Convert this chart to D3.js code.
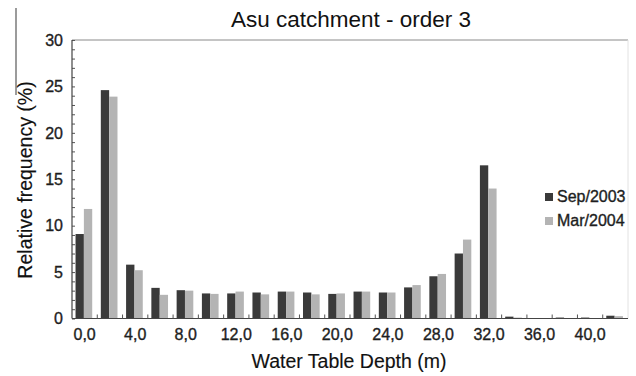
<!DOCTYPE html>
<html>
<head>
<meta charset="utf-8">
<script src="https://cdn.jsdelivr.net/npm/d3@7"></script>
<style>
  html, body { margin: 0; padding: 0; background: #fff; }
  svg { display: block; font-family: "Liberation Sans", Arial, sans-serif; }
  text { stroke: #1a1a1a; stroke-width: 0.35px; paint-order: stroke; }
  text.title { stroke-width: 0; }
  text.axis-title { stroke-width: 0.15px; }
</style>
</head>
<body>
<svg id="chart" width="636" height="376"></svg>
<script>
// Water table depth classes (m), one bin every 2 m
const depths = [0, 2, 4, 6, 8, 10, 12, 14, 16, 18, 20, 22, 24, 26, 28, 30, 32, 34, 36, 38, 40, 42];
const seriesNames = ["Sep/2003", "Mar/2004"];
// Relative frequency (%) per depth class
const sep2003 = [9.1, 24.6, 5.8, 3.3, 3.05, 2.7, 2.7, 2.8, 2.9, 2.8, 2.65, 2.9, 2.8, 3.35, 4.55, 7.0, 16.5, 0.2, 0.05, 0.1, 0.1, 0.3];
const mar2004 = [11.8, 23.9, 5.2, 2.55, 3.0, 2.65, 2.9, 2.6, 2.9, 2.6, 2.7, 2.9, 2.8, 3.6, 4.8, 8.5, 14.0, 0.1, 0.05, 0.05, 0.05, 0.25];
const yTicks = [0, 5, 10, 15, 20, 25, 30];
const xTickLabels = ["0,0", "4,0", "8,0", "12,0", "16,0", "20,0", "24,0", "28,0", "32,0", "36,0", "40,0"];

const colors = { "Sep/2003": "#3a3a3a", "Mar/2004": "#b4b4b4" };

const svg = d3.select("#chart");
const plotL = 72, plotR = 628, plotT = 40, plotB = 318.5;

const x0 = d3.scaleBand().domain(depths).range([plotL, plotR]).padding(0);
const x1 = d3.scaleBand().domain(seriesNames)
  .range([x0.bandwidth() * 0.14, x0.bandwidth() * 0.8]).padding(0);
const y = d3.scaleLinear().domain([0, 30]).range([plotB, plotT]);

const rows = depths.map((d, i) => ({ depth: d, values: [
  { key: "Sep/2003", value: sep2003[i] },
  { key: "Mar/2004", value: mar2004[i] }
]}));

// stray panel border on the far left
svg.append("line").attr("x1", 16).attr("x2", 16).attr("y1", 8).attr("y2", 95)
  .attr("stroke", "#7a7a7a").attr("stroke-width", 1.5);

// frame: top and right edges
svg.append("line").attr("x1", plotL).attr("x2", plotR).attr("y1", plotT).attr("y2", plotT)
  .attr("stroke", "#8a8a8a").attr("stroke-width", 1);
svg.append("line").attr("x1", plotR).attr("x2", plotR).attr("y1", plotT).attr("y2", plotB)
  .attr("stroke", "#e2e2e2").attr("stroke-width", 1);

// bars
const groups = svg.append("g").selectAll("g").data(rows).join("g")
  .attr("transform", d => `translate(${x0(d.depth)},0)`);
groups.selectAll("rect").data(d => d.values).join("rect")
  .attr("x", d => x1(d.key))
  .attr("width", x1.bandwidth())
  .attr("y", d => y(d.value))
  .attr("height", d => y(0) - y(d.value))
  .attr("fill", d => colors[d.key]);

// y axis with inner minor ticks
const yAxisG = svg.append("g").attr("transform", `translate(${plotL},0)`);
yAxisG.call(d3.axisRight(y).tickValues(d3.range(0, 31, 1)).tickSize(3).tickFormat(""))
  .call(g => g.select(".domain").remove())
  .call(g => g.selectAll("line").attr("stroke", "#555"));
yAxisG.append("line").attr("x1", 0).attr("x2", 0).attr("y1", plotT).attr("y2", plotB)
  .attr("stroke", "#444").attr("stroke-width", 1.2);
yAxisG.selectAll("text.ylab").data(yTicks).join("text").attr("class", "ylab")
  .attr("x", -9).attr("y", d => y(d)).attr("dy", "0.36em")
  .attr("text-anchor", "end").attr("font-size", 16).attr("fill", "#1e1e1e")
  .text(d => d);

// x axis: ticks at bin boundaries, pointing up
const xAxisG = svg.append("g");
xAxisG.append("line").attr("x1", plotL).attr("x2", plotR).attr("y1", plotB).attr("y2", plotB)
  .attr("stroke", "#444").attr("stroke-width", 1.2);
xAxisG.selectAll("line.xt").data(depths.slice(1)).join("line").attr("class", "xt")
  .attr("x1", d => x0(d)).attr("x2", d => x0(d))
  .attr("y1", plotB).attr("y2", plotB - 4)
  .attr("stroke", "#555");
xAxisG.selectAll("text.xlab").data(xTickLabels).join("text").attr("class", "xlab")
  .attr("x", (d, i) => x0(depths[i * 2]) + x0.bandwidth() / 2)
  .attr("y", 340)
  .attr("text-anchor", "middle").attr("font-size", 16).attr("fill", "#1e1e1e")
  .text(d => d);

// titles
svg.append("text").attr("class", "title").attr("x", 351).attr("y", 27).attr("text-anchor", "middle")
  .attr("font-size", 22.5).attr("fill", "#111").text("Asu catchment - order 3");
svg.append("text").attr("class", "axis-title").attr("x", 349).attr("y", 368).attr("text-anchor", "middle")
  .attr("font-size", 19.5).attr("fill", "#111").text("Water Table Depth (m)");
svg.append("text").attr("class", "axis-title").attr("transform", "translate(32,180) rotate(-90)")
  .attr("text-anchor", "middle").attr("font-size", 19.5).attr("fill", "#111")
  .text("Relative frequency (%)");

// legend
const legend = svg.append("g").selectAll("g").data(seriesNames).join("g")
  .attr("transform", (d, i) => `translate(545,${193 + i * 24})`);
legend.append("rect").attr("width", 8).attr("height", 8).attr("fill", d => colors[d]);
legend.append("text").attr("x", 12).attr("y", 8.5).attr("font-size", 16)
  .attr("fill", "#1e1e1e").text(d => d);
</script>
</body>
</html>
